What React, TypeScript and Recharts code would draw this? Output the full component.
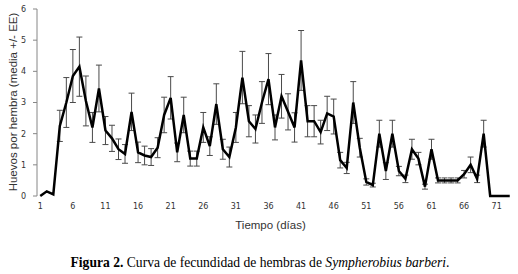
import React from "react";
import { LineChart, Line, XAxis, YAxis, ErrorBar } from "recharts";

// Días 1..73
const days: number[] = Array.from({ length: 73 }, (_, i) => i + 1);

// Huevos por hembra (media)
const means: number[] = [
  0, 0.15, 0.05, 2.25, 3.0, 3.85, 4.15, 3.05, 2.2, 3.45,
  2.1, 1.85, 1.5, 1.35, 2.7, 1.4, 1.3, 1.25, 1.55, 2.6,
  3.15, 1.4, 2.6, 1.2, 1.2, 2.2, 1.6, 2.95, 1.5, 1.25,
  2.2, 3.8, 2.4, 2.15, 3.0, 3.75, 2.2, 3.2, 2.7, 2.2,
  4.35, 2.4, 2.4, 2.05, 2.65, 2.55, 1.15, 0.9, 3.0, 1.55,
  0.45, 0.35, 2.0, 0.8, 2.0, 0.8, 0.55, 1.5, 1.2, 0.3,
  1.5, 0.5, 0.5, 0.5, 0.5, 0.7, 1.0, 0.55, 2.0, 0,
  0, 0, 0,
];

// Error estándar
const errors: number[] = [
  0, 0, 0, 0.5, 0.8, 0.85, 0.95, 0.8, 0.48, 0.75,
  0.45, 0.42, 0.33, 0.3, 0.6, 0.33, 0.3, 0.27, 0.32, 0.57,
  0.68, 0.3, 0.57, 0.24, 0.24, 0.48, 0.3, 0.65, 0.32, 0.32,
  0.48, 0.84, 0.5, 0.45, 0.67, 0.82, 0.4, 0.7, 0.58, 0.47,
  0.96, 0.5, 0.5, 0.38, 0.55, 0.56, 0.25, 0.18, 0.67, 0.3,
  0.1, 0.06, 0.43, 0.27, 0.43, 0.15, 0.12, 0.32, 0.2, 0.08,
  0.32, 0.08, 0.08, 0.08, 0.08, 0.12, 0.25, 0.12, 0.43, 0,
  0, 0, 0,
];

const xTickLabels: number[] = [1, 6, 11, 16, 21, 26, 31, 36, 41, 46, 51, 56, 61, 66, 71];
const yTicks: number[] = [0, 1, 2, 3, 4, 5, 6];

const data = days.map((d, i) => ({ day: d, mean: means[i], err: errors[i] }));
// marcas menores en los límites de cada categoría
const minorTicks = [...days.map((d) => d - 0.5), days[days.length - 1] + 0.5];

const axisColor = "#868686";
const tickFont = { fontSize: 8, fontFamily: "DejaVu Sans", fill: "#333" };

export default function App() {
  return (
    <div
      style={{
        position: "absolute",
        left: 0,
        top: 0,
        width: 518,
        height: 274,
        background: "#fff",
        overflow: "hidden",
      }}
    >
      <LineChart
        width={518}
        height={216}
        data={data}
        margin={{ top: 9, right: 5, left: 0, bottom: 0 }}
      >
        <XAxis
          xAxisId="minor"
          dataKey="day"
          type="number"
          domain={[0.5, 73.5]}
          ticks={minorTicks}
          tick={false}
          tickSize={3}
          height={0}
          stroke={axisColor}
          axisLine={{ stroke: axisColor }}
          tickLine={{ stroke: axisColor }}
          allowDataOverflow
        />
        <XAxis
          dataKey="day"
          type="number"
          domain={[0.5, 73.5]}
          ticks={xTickLabels}
          interval={0}
          axisLine={false}
          tickLine={false}
          tickSize={5}
          tickMargin={2}
          height={20}
          tick={tickFont}
          allowDataOverflow
        />
        <YAxis
          type="number"
          domain={[0, 6]}
          ticks={yTicks}
          width={37}
          tickSize={4}
          tickMargin={7}
          stroke={axisColor}
          axisLine={{ stroke: axisColor }}
          tickLine={{ stroke: axisColor }}
          tick={tickFont}
        />
        <Line
          dataKey="mean"
          type="linear"
          stroke="#000"
          strokeWidth={2.5}
          dot={false}
          isAnimationActive={false}
        >
          <ErrorBar
            dataKey="err"
            width={3}
            stroke="#4a4a4a"
            strokeWidth={1}
            direction="y"
            isAnimationActive={false}
          />
        </Line>
      </LineChart>

      <div
        style={{
          position: "absolute",
          left: 12.7,
          top: 102,
          transform: "translate(-50%, -50%) rotate(-90deg)",
          whiteSpace: "nowrap",
          fontFamily: "Liberation Sans",
          fontSize: 11.5,
          color: "#333",
        }}
      >
        Huevos por hembra (media +/- EE)
      </div>

      <div
        style={{
          position: "absolute",
          left: 270.5,
          top: 225,
          transform: "translate(-50%, -50%)",
          whiteSpace: "nowrap",
          fontFamily: "Liberation Sans",
          fontSize: 11.5,
          color: "#333",
        }}
      >
        Tiempo (días)
      </div>

      <div
        style={{
          position: "absolute",
          left: 260,
          top: 263,
          transform: "translate(-50%, -50%)",
          whiteSpace: "nowrap",
          fontFamily: "Liberation Serif",
          fontSize: 13.6,
          color: "#000",
        }}
      >
        <b>Figura 2.</b> Curva de fecundidad de hembras de <i>Sympherobius barberi</i>.
      </div>
    </div>
  );
}
